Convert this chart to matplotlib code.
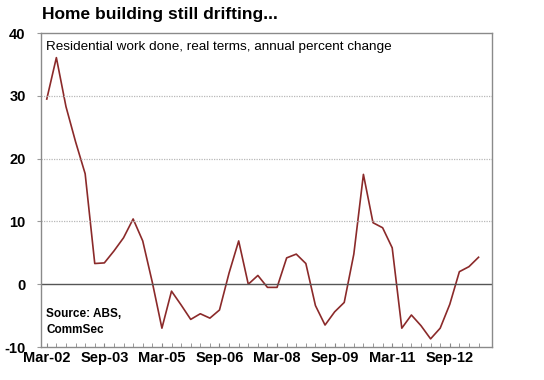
import matplotlib.pyplot as plt
import numpy as np

plt.rcParams['font.family'] = ['Liberation Sans', 'DejaVu Sans']

# quarterly, Mar-02 .. Jun-13
quarters = ["Mar", "Jun", "Sep", "Dec"]
labels = [f"{quarters[i % 4]}-{(2 + i // 4):02d}" for i in range(46)]
values = [29.5, 36.1, 28.3, 22.7, 17.6, 3.3, 3.4, 5.3, 7.4, 10.4,
          6.9, 0.3, -7.0, -1.1, -3.3, -5.6, -4.7, -5.4, -4.1, 1.8,
          6.9, 0.0, 1.4, -0.5, -0.5, 4.2, 4.8, 3.3, -3.4, -6.5,
          -4.4, -2.9, 4.8, 17.5, 9.8, 9.0, 5.8, -7.0, -4.9, -6.6,
          -8.7, -7.0, -3.2, 2.0, 2.8, 4.3]
shown_ticks = ["Mar-02", "Sep-03", "Mar-05", "Sep-06", "Mar-08", "Sep-09", "Mar-11", "Sep-12"]

fig = plt.figure(figsize=(5.44, 3.80), dpi=100)
ax = fig.add_axes([0.0754, 0.0868, 0.829, 0.826])

x = np.arange(len(values))
ax.plot(x, values, color="#8b2a2a", lw=1.2)

ax.set_xlim(-0.6, 46.4)
ax.set_ylim(-10, 40)

for yv in [10, 20, 30]:
    ax.axhline(yv, color="#b8b8b8", lw=0.9, ls=(0, (1, 1)))
ax.axhline(0, color="#555555", lw=1.0)

ax.set_yticks([-10, 0, 10, 20, 30, 40])
ax.set_yticklabels(["-10", "0", "10", "20", "30", "40"], fontsize=10.5, fontweight="bold")
ax.tick_params(axis="y", length=3, color="#999999", pad=8)

ax.set_xticks(x, minor=True)
major = [labels.index(t) for t in shown_ticks]
ax.set_xticks(major)
ax.set_xticklabels(shown_ticks, fontsize=10.5, fontweight="bold")
ax.tick_params(axis="x", which="both", direction="in", length=3, color="#888888", pad=3)

for s in ax.spines.values():
    s.set_color("#8a8a8a")
    s.set_linewidth(1.0)

fig.text(42 / 544, 1 - 15 / 380, "Home building still drifting...", fontsize=12.5,
         fontweight="bold", va="center", ha="left")
ax.text(0.012, 0.975, "Residential work done, real terms, annual percent change",
        transform=ax.transAxes, fontsize=9.7, va="top", ha="left")
ax.text(0.012, 0.125, "Source: ABS,\nCommSec", transform=ax.transAxes,
        fontsize=8.5, fontweight="bold", va="top", ha="left", linespacing=1.5)

plt.savefig("out.png", dpi=100)
